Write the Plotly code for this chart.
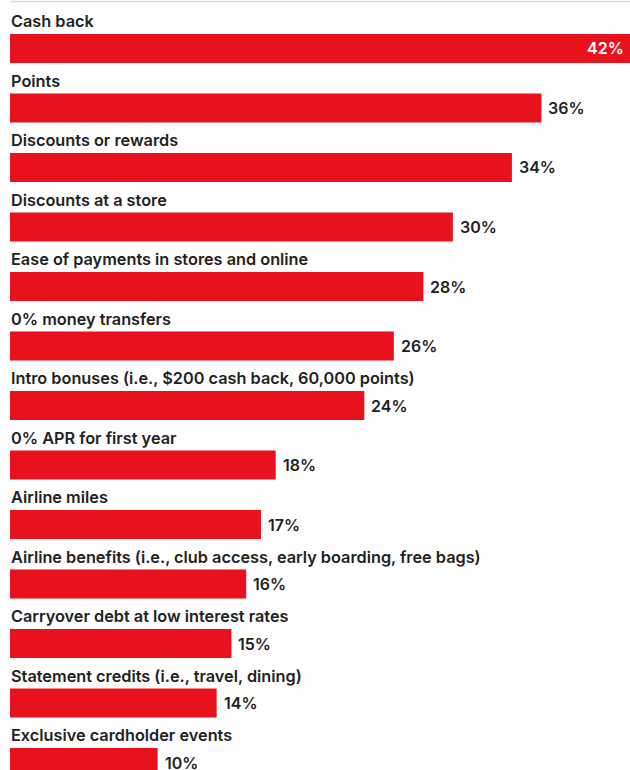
import plotly.graph_objects as go

categories = [
    "Cash back",
    "Points",
    "Discounts or rewards",
    "Discounts at a store",
    "Ease of payments in stores and online",
    "0% money transfers",
    "Intro bonuses (i.e., $200 cash back, 60,000 points)",
    "0% APR for first year",
    "Airline miles",
    "Airline benefits (i.e., club access, early boarding, free bags)",
    "Carryover debt at low interest rates",
    "Statement credits (i.e., travel, dining)",
    "Exclusive cardholder events",
]
values = [42, 36, 34, 30, 28, 26, 24, 18, 17, 16, 15, 14, 10]
value_labels = [f"{v}%" for v in values]

RED = "#E8111E"
DARK = "#222222"
FONT = "Inter"

rows = list(range(len(categories)))
x_max = max(values)

fig = go.Figure()
fig.add_trace(go.Bar(
    x=values,
    y=rows,
    orientation="h",
    width=0.487,
    marker=dict(color=RED, line=dict(width=0)),
    hoverinfo="skip",
))

for i, c in enumerate(categories):
    fig.add_annotation(
        x=0, y=i - 0.2435, xref="x", yref="y",
        text=c, showarrow=False,
        xanchor="left", yanchor="bottom",
        font=dict(family=FONT, size=16.3, color=DARK, weight=600),
        xshift=-1, yshift=1,
    )

for i, (v, lab) in enumerate(zip(values, value_labels)):
    inside = v >= x_max
    fig.add_annotation(
        x=v, y=i, xref="x", yref="y",
        text=lab, showarrow=False,
        xanchor="right" if inside else "left", yanchor="middle",
        font=dict(family=FONT, size=16, color="#ffffff" if inside else DARK, weight=600),
        xshift=-4 if inside else 5,
    )

fig.add_shape(type="line", xref="paper", yref="paper",
              x0=0, x1=1, y0=1 - 1.5 / 770, y1=1 - 1.5 / 770,
              line=dict(color="#d9d9d9", width=1.5))

fig.update_layout(
    width=630, height=770,
    margin=dict(l=10, r=0, t=0, b=0),
    paper_bgcolor="white", plot_bgcolor="white",
    showlegend=False,
    xaxis=dict(range=[0, 42], visible=False, fixedrange=True),
    yaxis=dict(range=[12.126, -0.815], visible=False, fixedrange=True),
)

fig.write_html(
    "out.html",
    config={"displayModeBar": False},
    post_script="document.body.style.margin='0';document.body.style.overflow='hidden';",
)
